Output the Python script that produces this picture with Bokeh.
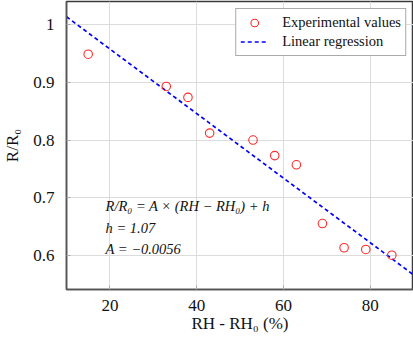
from bokeh.plotting import figure
from bokeh.models import FixedTicker, Label, Legend, LegendItem, Range1d
from bokeh.embed import file_html
from bokeh.resources import INLINE

# Data
rh = [15, 33, 38, 43, 53, 58, 63, 69, 74, 79, 85]
ratio = [0.949, 0.893, 0.874, 0.812, 0.800, 0.773, 0.757, 0.655, 0.613, 0.610, 0.600]
fit_h = 1.07
fit_A = -0.0056
fit_x = [10, 90]
x_ticks = [20, 40, 60, 80]
y_ticks = [0.6, 0.7, 0.8, 0.9, 1.0]

FONT = "serif"

p = figure(width=413, height=349, output_backend="svg", toolbar_location=None,
           x_range=Range1d(10, 90), y_range=Range1d(0.5405, 1.0405),
           min_border_left=65, min_border_right=0, min_border_top=1, min_border_bottom=60)

p.outline_line_color = "#3a3a3a"
p.outline_line_width = 1.5
p.background_fill_color = "white"
p.border_fill_color = "white"

for ax in (p.xaxis[0], p.yaxis[0]):
    ax.axis_line_color = "#555555"
    ax.axis_line_width = 1.5
    ax.major_tick_in = 4
    ax.major_tick_out = 0
    ax.major_tick_line_color = "#aaaaaa"
    ax.minor_tick_line_color = None
    ax.major_label_text_font = FONT
    ax.major_label_text_font_size = "17px"
    ax.major_label_text_color = "#111111"
    ax.axis_label_text_font = FONT
    ax.axis_label_text_font_size = "17px"
    ax.axis_label_text_font_style = "normal"
    ax.axis_label_text_color = "#111111"

p.xaxis.ticker = FixedTicker(ticks=x_ticks)
p.yaxis.ticker = FixedTicker(ticks=y_ticks)
p.yaxis.major_label_overrides = {1: "1", 0.6: "0.6", 0.7: "0.7", 0.8: "0.8", 0.9: "0.9"}
p.xaxis.major_label_standoff = 10
p.yaxis.major_label_standoff = 12
p.xaxis.axis_label_standoff = 0
p.yaxis.axis_label_standoff = 8
p.xaxis.axis_label = "RH - RH\u2080 (%)"
p.yaxis.axis_label = "R/R\u2080"

p.xgrid.ticker = FixedTicker(ticks=x_ticks)
p.ygrid.ticker = FixedTicker(ticks=y_ticks)
p.grid.grid_line_color = "#dcdcdc"
p.grid.grid_line_width = 1

fit_y = [fit_h + fit_A * x for x in fit_x]
line_r = p.line(fit_x, fit_y, line_color="#0000ff", line_width=1.7, line_dash="4 3")
pts_r = p.scatter(rh, ratio, marker="circle", size=8.5, fill_color=None,
                  line_color="#ff2a2a", line_width=1.1)

legend = Legend(items=[LegendItem(label="Experimental values", renderers=[pts_r]),
                       LegendItem(label="Linear regression", renderers=[line_r])],
                location="top_right")
legend.label_text_font = FONT
legend.label_text_font_size = "14.5px"
legend.label_text_color = "#111111"
legend.border_line_color = "#555555"
legend.border_line_width = 1
legend.background_fill_alpha = 1
legend.margin = 7
legend.padding = 4
legend.spacing = 0
legend.glyph_width = 28
legend.glyph_height = 19
legend.label_height = 19
legend.label_standoff = 14
p.add_layout(legend)

eq_lines = ["R/R\u2080 = A \u00d7 (RH \u2212 RH\u2080) + h", "h = 1.07", "A = \u22120.0056"]
eq_y = [0.686, 0.647, 0.610]
for t, yy in zip(eq_lines, eq_y):
    p.add_layout(Label(x=19, y=yy, text=t, text_font=FONT, text_font_size="14.5px",
                       text_font_style="italic", text_baseline="middle", text_color="#111111"))

open("out.html", "w").write(file_html(p, INLINE))
